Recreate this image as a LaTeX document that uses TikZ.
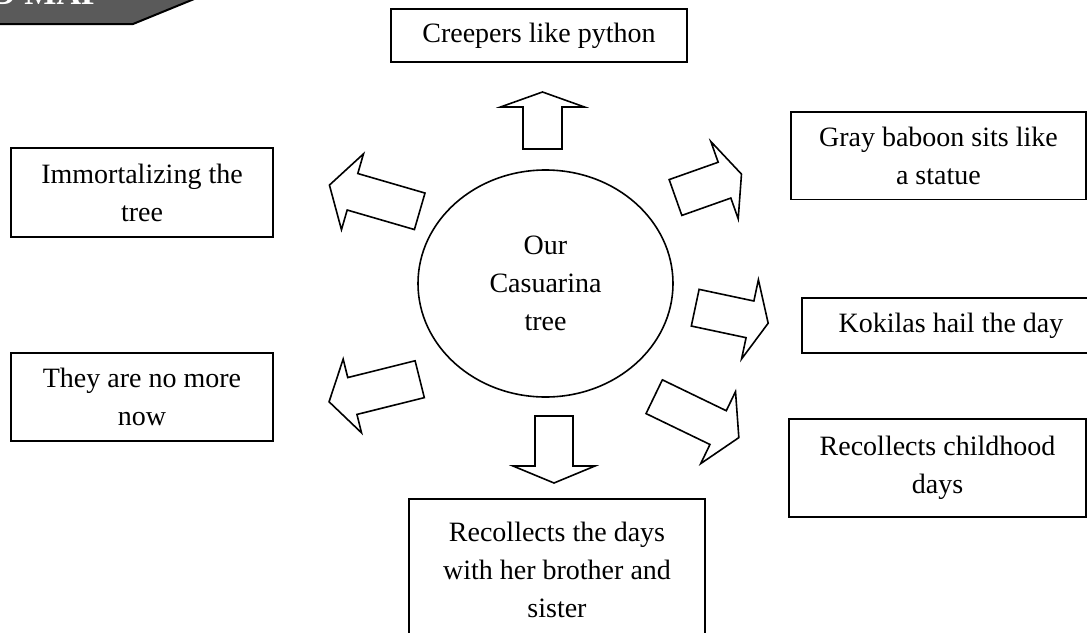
\documentclass[tikz,border=0pt]{standalone}
\usepackage{fontspec}
\setmainfont{Liberation Serif}
\usetikzlibrary{shapes.geometric}
\definecolor{bannergray}{HTML}{5A5A5A}
\tikzset{
  arrowline/.style={draw=black,line width=0.8pt,fill=white,line join=miter},
  pics/blockarrow/.style n args={4}{code={
    \path[arrowline] (0,-#2/2) -- (#1,-#2/2) -- (#1,-#4/2) -- (#1+#3,0)
      -- (#1,#4/2) -- (#1,#2/2) -- (0,#2/2) -- cycle;
  }}
}
\begin{document}
\begin{tikzpicture}[x=0.5pt,y=-0.5pt,
  idea/.style={draw,line width=0.8pt,align=center,inner sep=0pt,
    font=\fontsize{14}{19}\selectfont},
  hub/.style={ellipse,draw,line width=0.8pt,align=center,inner sep=0pt,
    font=\fontsize{14}{19}\selectfont}]
\useasboundingbox (0,0) rectangle (1087,632);
\clip (0,0) rectangle (1087,632);
\fill [bannergray] (-5,-5) -- (204,-5) -- (133,24) -- (-5,24) -- cycle;
\draw [line width=1pt] (-5,24) -- (133,24) -- (204,-5);
\node [anchor=base west,inner sep=0pt,text=white,font=\fontsize{17}{20}\selectfont\bfseries] (banner) at (-9,4) {D MAP};
\node [hub,minimum width=127.5pt,minimum height=113.5pt] (tree) at (545.5,283.5) {Our\\Casuarina\\tree};
\node [idea,minimum width=148pt,minimum height=26.5pt] (creepers) at (539,35.5) {Creepers like python};
\node [idea,minimum width=147.6pt,minimum height=43.8pt] (baboon) at (938.4,155.5) {Gray baboon sits like\\a statue};
\node [idea,minimum width=131pt,minimum height=44.5pt] (immortal) at (142,192.5) {Immortalizing the\\tree};
\node [idea,minimum width=131pt,minimum height=44pt] (nomore) at (142,397) {They are no more\\now};
\node [idea,minimum width=149pt,minimum height=27.5pt] (kokilas) at (951,325.5) {Kokilas hail the day};
\node [idea,minimum width=148.5pt,minimum height=49pt] (childhood) at (937.5,468) {Recollects childhood\\days};
\node [idea,minimum width=148pt,minimum height=70.5pt] (siblings) at (557,569.5) {Recollects the days\\with her brother and\\sister};
\pic [rotate=90] (toCreepers) at (542.5,149) {blockarrow={42}{39}{15}{84}};
\pic [rotate=163.8] (toImmortal) at (419.7,211.3) {blockarrow={70}{38}{24}{79}};
\pic [rotate=19.5] (toBaboon) at (675.5,197.5) {blockarrow={52}{38}{18}{82}};
\pic [rotate=-12] (toKokilas) at (695.2,307.7) {blockarrow={56}{37.5}{18.6}{81}};
\pic [rotate=-25.8] (toChildhood) at (654.2,396.7) {blockarrow={71}{37.5}{23}{80}};
\pic [rotate=194] (toNomore) at (419.7,379.2) {blockarrow={69.4}{38}{24}{76}};
\pic [rotate=-90] (toSiblings) at (554,416) {blockarrow={50}{38}{17}{82}};
\end{tikzpicture}
\end{document}
